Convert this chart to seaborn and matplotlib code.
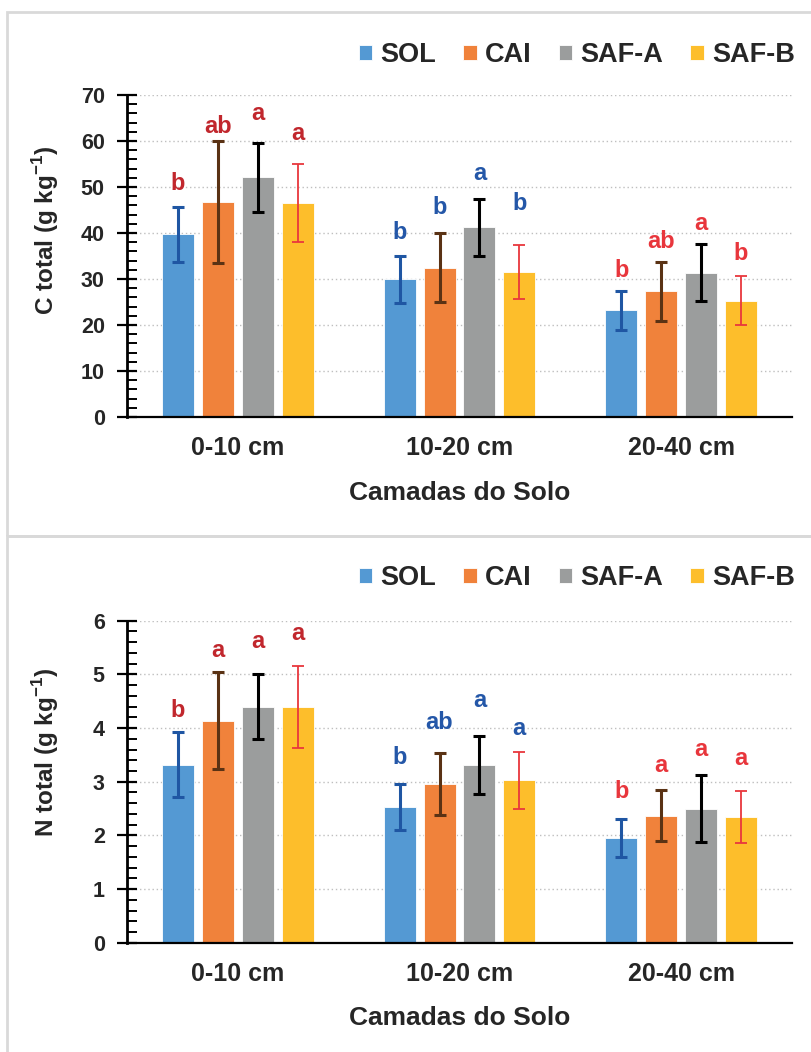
import numpy as np
import pandas as pd
import matplotlib
matplotlib.use("Agg")
import matplotlib.pyplot as plt
import seaborn as sns
from matplotlib.ticker import MultipleLocator
from matplotlib.patches import Rectangle

# ---------------- data ----------------
layers = ["0-10 cm", "10-20 cm", "20-40 cm"]
systems = ["SOL", "CAI", "SAF-A", "SAF-B"]

c_sol = [39.7, 29.9, 23.2]
c_cai = [46.7, 32.5, 27.3]
c_safa = [52.1, 41.2, 31.4]
c_safb = [46.5, 31.5, 25.3]
c_sol_err = [6.0, 5.2, 4.2]
c_cai_err = [13.2, 7.6, 6.4]
c_safa_err = [7.5, 6.1, 6.2]
c_safb_err = [8.5, 5.8, 5.4]

n_sol = [3.32, 2.53, 1.95]
n_cai = [4.14, 2.96, 2.37]
n_safa = [4.40, 3.32, 2.50]
n_safb = [4.39, 3.03, 2.34]
n_sol_err = [0.60, 0.43, 0.36]
n_cai_err = [0.90, 0.58, 0.48]
n_safa_err = [0.60, 0.54, 0.62]
n_safb_err = [0.77, 0.53, 0.48]

c_letters = [["b", "b", "b"], ["ab", "b", "ab"], ["a", "a", "a"], ["a", "b", "b"]]
c_letter_y = [[49.3, 38.8, 30.5], [61.7, 44.1, 36.7], [64.6, 51.5, 40.7], [60.2, 45.0, 34.1]]
n_letters = [["b", "b", "b"], ["a", "ab", "a"], ["a", "a", "a"], ["a", "a", "a"]]
n_letter_y = [[4.21, 3.33, 2.69], [5.33, 3.99, 3.19], [5.49, 4.40, 3.47], [5.64, 3.87, 3.31]]

# ---------------- style ----------------
bar_colors = ["#5499D3", "#F0823B", "#9B9D9D", "#FDBE2B"]
err_colors = ["#1F56A3", "#5A3214", "#000000", "#E8373D"]
err_widths = [2.2, 2.2, 2.2, 1.3]
red_dark = "#C1272D"
blue_l = "#2457A8"
red_bright = "#E8363C"
c_letter_colors = [red_dark, blue_l, red_bright]
n_letter_colors = [red_dark, blue_l, red_bright]

sns.set_theme(style="white")
plt.rcParams["font.family"] = ["Liberation Sans", "DejaVu Sans"]
plt.rcParams["font.weight"] = "bold"
plt.rcParams["mathtext.fontset"] = "custom"
plt.rcParams["mathtext.rm"] = "Liberation Sans:bold"
plt.rcParams["mathtext.bf"] = "Liberation Sans:bold"

W, H = 812, 1052
fig = plt.figure(figsize=(W / 100, H / 100), dpi=100)

# panel frames
fig.add_artist(Rectangle((7 / W, 1 - 536 / H), 1.0, (536 - 12) / H, transform=fig.transFigure,
                         fill=False, ec="#D9D9D9", lw=2))
fig.add_artist(Rectangle((7 / W, -0.05), 1.0, 0.05 + 1 - 536 / H, transform=fig.transFigure,
                         fill=False, ec="#D9D9D9", lw=2))


def make_panel(rect, means, errs, letters, letter_y, letter_cols, ymax, major, minor,
               ylabel, ylabel_y, legend_y):
    ax = fig.add_axes(rect)
    df = pd.DataFrame({
        "layer": np.tile(layers, len(systems)),
        "system": np.repeat(systems, len(layers)),
        "value": np.concatenate(means),
    })
    sns.barplot(data=df, x="layer", y="value", hue="system", order=layers, hue_order=systems,
                palette=bar_colors, width=0.72, gap=0.2, errorbar=None, ax=ax,
                linewidth=0.6, edgecolor="#FFFFFF", legend=False, saturation=1)
    bar_conts = list(ax.containers[:len(systems)])
    for i, cont in enumerate(bar_conts):
        xs = [p.get_x() + p.get_width() / 2 for p in cont.patches]
        ax.errorbar(xs, means[i], yerr=errs[i], fmt="none", ecolor=err_colors[i],
                    elinewidth=err_widths[i], capsize=4, capthick=err_widths[i], zorder=5)
        for j, x in enumerate(xs):
            ax.text(x, letter_y[i][j], letters[i][j], ha="center", va="baseline",
                    fontsize=17, fontweight="bold", color=letter_cols[j], zorder=6)
    ax.set_xlim(-0.5, 2.5)
    ax.set_ylim(0, ymax)
    ax.yaxis.set_major_locator(MultipleLocator(major))
    ax.yaxis.set_minor_locator(MultipleLocator(minor))
    ax.grid(axis="y", which="major", linestyle=(0, (1, 2)), color="#BFBFBF", linewidth=1.0)
    ax.set_axisbelow(True)
    for s in ["top", "right"]:
        ax.spines[s].set_visible(False)
    ax.spines["left"].set_color("black")
    ax.spines["left"].set_linewidth(2.0)
    ax.spines["bottom"].set_color("black")
    ax.spines["bottom"].set_linewidth(1.6)
    ax.tick_params(axis="y", which="major", direction="inout", length=14, width=1.6,
                   color="black", left=True, labelsize=15.5, pad=9)
    ax.tick_params(axis="y", which="minor", direction="in", length=7, width=1.4,
                   color="black", left=True)
    ax.tick_params(axis="x", length=0, labelsize=18, pad=14)
    for lab in ax.get_yticklabels() + ax.get_xticklabels():
        lab.set_fontweight("bold")
    ax.set_xlabel("Camadas do Solo", fontsize=19, fontweight="bold", va="center")
    ax.xaxis.set_label_coords(0.5, -0.235)
    ax.set_ylabel(ylabel, fontsize=17.5, fontweight="bold", va="center")
    ax.yaxis.set_label_coords(-0.122, ylabel_y)
    ax.legend(bar_conts, systems, loc="center right", bbox_to_anchor=(795 / W, legend_y),
              bbox_transform=fig.transFigure, ncol=4, frameon=False,
              handlelength=0.5, handleheight=0.5, handletextpad=0.3, columnspacing=1.0,
              borderpad=0, borderaxespad=0, prop={"weight": "bold", "size": 19.5})
    return ax


ax1 = make_panel([127 / W, 1 - 417 / H, 665 / W, 322 / H],
                 [c_sol, c_cai, c_safa, c_safb],
                 [c_sol_err, c_cai_err, c_safa_err, c_safb_err],
                 c_letters, c_letter_y, c_letter_colors, 70, 10, 2,
                 r"C total (g kg$^{\mathbf{-1}}$)", 0.58, 1 - 55 / H)

ax2 = make_panel([127 / W, 1 - 942.7 / H, 665 / W, 322 / H],
                 [n_sol, n_cai, n_safa, n_safb],
                 [n_sol_err, n_cai_err, n_safa_err, n_safb_err],
                 n_letters, n_letter_y, n_letter_colors, 6, 1, 0.2,
                 r"N total (g kg$^{\mathbf{-1}}$)", 0.59, 1 - 578 / H)

fig.savefig("out.png", dpi=100)
